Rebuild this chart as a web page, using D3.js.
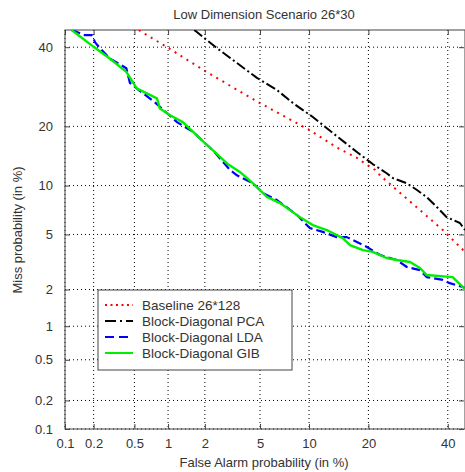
<!DOCTYPE html>
<html lang="en">
<head>
  <meta charset="UTF-8">
  <title>Low Dimension Scenario 26*30</title>
  <style>
    * { margin: 0; box-sizing: border-box; }
    body { background: #fff; }
    svg { display: block; font-family: "Liberation Sans", Arial, sans-serif; }
    .grid line { stroke: #000; stroke-dasharray: 1,3; stroke-width: 1; }
    .axis path { display: none; }
    .axis line { stroke: #444; }
    .axis text { fill: #333; font-size: 13px; }
    .lbl { fill: #333; font-size: 13px; }
  </style>
</head>
<body>
  <svg></svg>
  <script src="https://d3js.org/d3.v7.min.js"></script>
  <script>
    // tick values (in %) and labels, same on both axes
    const tickValues = [0.1, 0.2, 0.5, 1, 2, 5, 10, 20, 40];
    const tickLabels = ['0.1', '0.2', '0.5', '1', '2', '5', '10', '20', '40'];

    const seriesNames = ['Baseline 26*128', 'Block-Diagonal PCA', 'Block-Diagonal LDA', 'Block-Diagonal GIB'];

    // [false alarm %, miss %]
    const baseline = [[0.55,45],[0.587,44.4],[0.98,40],[2.08,33],[4.99,25.2],[10.1,19.2],[14.1,15.9],
      [17.7,14.1],[18.9,13.4],[21.4,12.2],[22.5,11.4],[26.4,9.43],[32.3,7.16],[38.6,5.35],[45,3.8]];
    const pca = [[1.65,45],[1.73,44.4],[2.48,39.7],[4.77,31.5],[6.43,28.4],[8.06,25.2],[10.5,22.0],
      [13.5,18.6],[17.7,15.1],[20.9,13.1],[24.0,11.7],[25.5,11.0],[28.9,10.3],[31.5,9.43],[34.1,8.58],
      [36.9,7.48],[39.7,6.47],[43.5,5.94],[45,5.35]];
    const lda = [[0.118,45],[0.163,43.5],[0.193,43.5],[0.207,41.4],[0.232,39.7],[0.29,36.8],[0.42,34.1],
      [0.454,30.2],[0.525,28.8],[0.8,24.95],[1.19,20.9],[1.61,18.9],[2.0,16.7],[2.31,15.4],[3.09,12.2],
      [3.47,11.4],[4.49,10.3],[5.23,9.06],[6.43,8.24],[8.52,6.67],[10.1,5.51],[11.9,5.2],[14.1,4.8],
      [15.8,4.8],[17.7,4.45],[19.7,4.11],[22.5,3.61],[26.4,3.33],[28.9,2.96],[32.3,2.81],[34.1,2.49],
      [38.6,2.37],[40.6,2.24],[44.4,2.09],[45,2.05]];
    const gib = [[0.118,45],[0.2,40.1],[0.29,36.8],[0.42,33.1],[0.525,28.8],[0.8,26.3],[0.85,23.9],
      [1.04,22.4],[1.33,20.9],[1.61,18.9],[2.0,16.7],[2.31,15.4],[2.94,13.2],[3.64,11.9],[4.49,10.3],
      [5.55,8.6],[6.72,7.9],[7.74,7.16],[8.87,6.47],[10.5,5.76],[12.5,5.35],[15.1,4.73],[16.4,4.24],
      [18.9,3.91],[20.9,3.8],[24.0,3.44],[26.4,3.33],[29.7,3.22],[32.3,2.91],[34.1,2.58],[41.4,2.49],
      [44.4,2.09],[45,2.0]];

    const width = 465, height = 472;
    const margin = {top: 30, left: 65};
    const plotW = 400, plotH = 399;

    // inverse normal CDF (Acklam)
    function probit(p) {
      const a = [-3.969683028665376e+01, 2.209460984245205e+02, -2.759285104469687e+02, 1.383577518672690e+02, -3.066479806614716e+01, 2.506628277459239e+00];
      const b = [-5.447609879822406e+01, 1.615858368580409e+02, -1.556989798598866e+02, 6.680131188771972e+01, -1.328068155288572e+01];
      const c = [-7.784894002430293e-03, -3.223964580411365e-01, -2.400758277161838e+00, -2.549732539343734e+00, 4.374664141464968e+00, 2.938163982698783e+00];
      const d = [7.784695709041462e-03, 3.224671290700398e-01, 2.445134137142996e+00, 3.754408661907416e+00];
      const pl = 0.02425;
      if (p < pl) {
        const q = Math.sqrt(-2 * Math.log(p));
        return (((((c[0]*q+c[1])*q+c[2])*q+c[3])*q+c[4])*q+c[5]) / ((((d[0]*q+d[1])*q+d[2])*q+d[3])*q+1);
      }
      if (p <= 1 - pl) {
        const q = p - 0.5, r = q * q;
        return (((((a[0]*r+a[1])*r+a[2])*r+a[3])*r+a[4])*r+a[5])*q / (((((b[0]*r+b[1])*r+b[2])*r+b[3])*r+b[4])*r+1);
      }
      const q = Math.sqrt(-2 * Math.log(1 - p));
      return -(((((c[0]*q+c[1])*q+c[2])*q+c[3])*q+c[4])*q+c[5]) / ((((d[0]*q+d[1])*q+d[2])*q+d[3])*q+1);
    }
    const pz = v => probit(v / 100);

    const svg = d3.select('svg').attr('width', width).attr('height', height);

    const x = d3.scaleLinear().domain([pz(0.1), pz(45)]).range([margin.left, margin.left + plotW]);
    const y = d3.scaleLinear().domain([pz(0.1), pz(45)]).range([margin.top + plotH, margin.top]);
    const ticksZ = tickValues.map(pz);
    const fmt = (d, i) => tickLabels[i];

    // grid
    const grid = svg.append('g').attr('class', 'grid');
    grid.selectAll('.gx').data(ticksZ).enter().append('line')
      .attr('x1', d => x(d)).attr('x2', d => x(d))
      .attr('y1', margin.top).attr('y2', margin.top + plotH);
    grid.selectAll('.gy').data(ticksZ).enter().append('line')
      .attr('y1', d => y(d)).attr('y2', d => y(d))
      .attr('x1', margin.left).attr('x2', margin.left + plotW);

    // axes, ticks pointing inwards
    svg.append('g').attr('class', 'axis')
      .attr('transform', 'translate(0,' + (margin.top + plotH) + ')')
      .call(d3.axisBottom(x).tickValues(ticksZ).tickFormat(fmt).tickSizeInner(-5).tickSizeOuter(0).tickPadding(10));
    svg.append('g').attr('class', 'axis')
      .attr('transform', 'translate(0,' + margin.top + ')')
      .call(d3.axisTop(x).tickValues(ticksZ).tickFormat('').tickSizeInner(-5).tickSizeOuter(0));
    svg.append('g').attr('class', 'axis')
      .attr('transform', 'translate(' + margin.left + ',0)')
      .call(d3.axisLeft(y).tickValues(ticksZ).tickFormat(fmt).tickSizeInner(-5).tickSizeOuter(0).tickPadding(12));
    svg.append('g').attr('class', 'axis')
      .attr('transform', 'translate(' + (margin.left + plotW - 1) + ',0)')
      .call(d3.axisRight(y).tickValues(ticksZ).tickFormat('').tickSizeInner(-5).tickSizeOuter(0));

    // frame
    svg.append('rect')
      .attr('x', margin.left).attr('y', margin.top)
      .attr('width', plotW).attr('height', plotH)
      .attr('fill', 'none').attr('stroke', '#444').attr('stroke-width', 1);

    // curves
    svg.append('clipPath').attr('id', 'clip').append('rect')
      .attr('x', margin.left).attr('y', margin.top).attr('width', plotW).attr('height', plotH);

    const line = d3.line().x(d => x(pz(d[0]))).y(d => y(pz(d[1])));

    const styles = [
      {data: baseline, color: '#ff0000', dash: '2,5', w: 2},
      {data: pca, color: '#000000', dash: '10,3,2,3', w: 2},
      {data: lda, color: '#0000ff', dash: '9,4', w: 2.2},
      {data: gib, color: '#00ee00', dash: null, w: 2.4}
    ];

    const curves = svg.append('g').attr('clip-path', 'url(#clip)');
    styles.forEach(s => {
      curves.append('path')
        .attr('d', line(s.data))
        .attr('fill', 'none')
        .attr('stroke', s.color)
        .attr('stroke-width', s.w)
        .attr('stroke-dasharray', s.dash)
        .attr('stroke-linejoin', 'round');
    });

    // legend
    const legend = svg.append('g').attr('transform', 'translate(98,290)');
    legend.append('rect').attr('width', 194).attr('height', 80)
      .attr('fill', '#fff').attr('stroke', '#444');
    const legendDash = ['2,3.5', '11,4,2,4', '9,5', null];
    styles.forEach((s, i) => {
      const g = legend.append('g').attr('transform', 'translate(0,' + (15 + i * 16) + ')');
      g.append('line').attr('x1', 7).attr('x2', 35).attr('y1', 0).attr('y2', 0)
        .attr('stroke', s.color).attr('stroke-width', 2)
        .attr('stroke-dasharray', legendDash[i]);
      g.append('text').attr('class', 'lbl').attr('x', 44).attr('dy', '0.35em')
        .style('font-size', '13.5px')
        .text(seriesNames[i]);
    });

    // titles
    svg.append('text').attr('class', 'lbl')
      .attr('x', margin.left + 199).attr('y', 19).attr('text-anchor', 'middle')
      .text('Low Dimension Scenario 26*30');
    svg.append('text').attr('class', 'lbl')
      .attr('x', margin.left + 199).attr('y', 467).attr('text-anchor', 'middle')
      .text('False Alarm probability (in %)');
    svg.append('text').attr('class', 'lbl')
      .attr('transform', 'translate(22,' + (margin.top + 200) + ') rotate(-90)')
      .attr('text-anchor', 'middle')
      .text('Miss probability (in %)');
  </script>
</body>
</html>
